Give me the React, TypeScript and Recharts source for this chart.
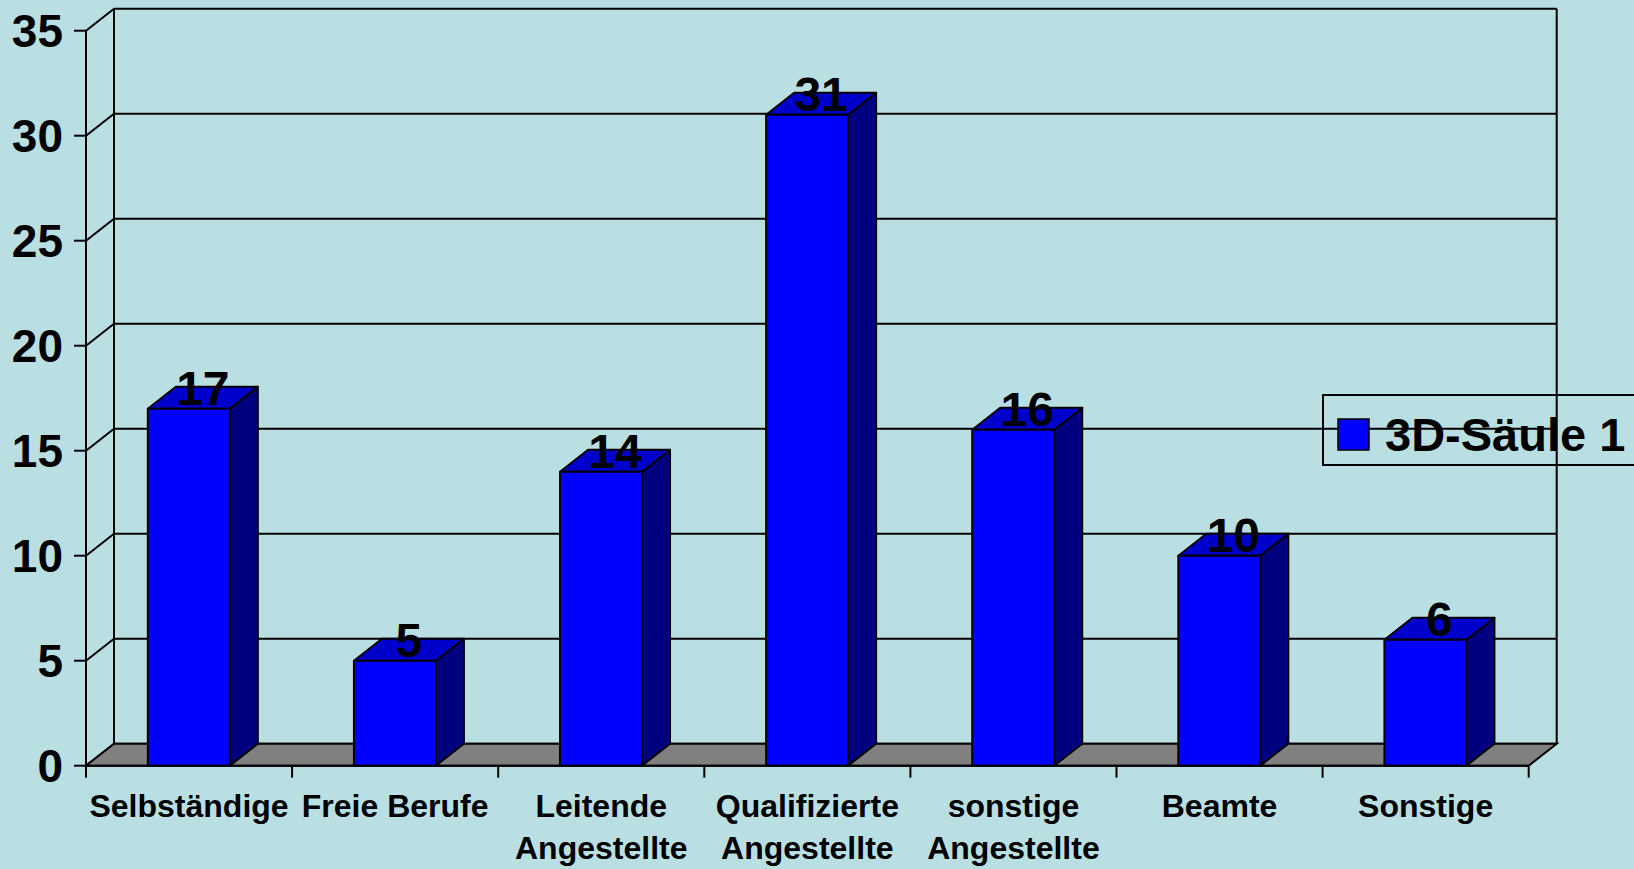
import React from "react";
import {
  BarChart,
  Bar,
  XAxis,
  YAxis,
  CartesianGrid,
  ReferenceArea,
  LabelList,
  Legend,
} from "recharts";

// Werte
const categories = [
  "Selbständige",
  "Freie Berufe",
  "Leitende\nAngestellte",
  "Qualifizierte\nAngestellte",
  "sonstige\nAngestellte",
  "Beamte",
  "Sonstige",
];
const values = [17, 5, 14, 31, 16, 10, 6];
const yTicks = [0, 5, 10, 15, 20, 25, 30, 35];
const seriesName = "3D-Säule 1";

const data = categories.map((name, i) => ({ name, value: values[i] }));

const FONT = '"Liberation Sans", Arial, sans-serif';
const BG = "#B9DFE3";
// Tiefe der 3D-Darstellung
const DX = 28;
const DY = 22;

// Säule mit Vorderseite, Deckel und Seitenfläche
const Column3D = (props: any) => {
  const { x, y, width, height } = props;
  if (!height || height <= 0) return null;
  const r = x + width;
  const b = y + height;
  return (
    <g stroke="#000" strokeWidth={2} strokeLinejoin="round">
      <polygon points={`${r},${y} ${r + DX},${y - DY} ${r + DX},${b - DY} ${r},${b}`} fill="#000080" />
      <polygon points={`${x},${y} ${x + DX},${y - DY} ${r + DX},${y - DY} ${r},${y}`} fill="#0000CC" />
      <rect x={x} y={y} width={width} height={height} fill="#0000FF" />
    </g>
  );
};

// Rückwand, Boden und Teilstriche der Kategorienachse
const Walls = (props: any) => {
  const { x, y, width, height } = props;
  const b = y + height;
  const r = x + width;
  const n = categories.length;
  const marks = Array.from({ length: n + 1 }, (_, i) => x + (i * width) / n);
  return (
    <g stroke="#000" strokeWidth={2}>
      <line x1={x + DX} y1={y - DY} x2={x + DX} y2={b - DY} />
      <line x1={r + DX} y1={y - DY} x2={r + DX} y2={b - DY} />
      <polygon points={`${x},${b} ${x + DX},${b - DY} ${r + DX},${b - DY} ${r},${b}`} fill="#808080" />
      {marks.map((mx, i) => (
        <line key={i} x1={mx} y1={b} x2={mx} y2={b + 12} />
      ))}
    </g>
  );
};

const gridLine = (p: any) => {
  const { x1, y1, x2, y2 } = p;
  return (
    <g key={`grid-${y1}`} stroke="#000" strokeWidth={2}>
      <line x1={x1} y1={y1} x2={x1 + DX} y2={y1 - DY} />
      <line x1={x1 + DX} y1={y1 - DY} x2={x2 + DX} y2={y2 - DY} />
    </g>
  );
};

const CategoryTick = (p: any) => {
  const { x, y, payload } = p;
  const lines = String(payload.value).split("\n");
  return (
    <text x={x} y={y} textAnchor="middle" fontFamily={FONT} fontWeight="bold" fontSize={32} fill="#000">
      {lines.map((l, i) => (
        <tspan key={i} x={x} dy={i === 0 ? 51 : 42}>
          {l}
        </tspan>
      ))}
    </text>
  );
};

const ValueLabel = (p: any) => {
  const { x, y, width, value } = p;
  return (
    <text
      x={x + width / 2 + DX / 2}
      y={y - 4}
      textAnchor="middle"
      fontFamily={FONT}
      fontWeight="bold"
      fontSize={48}
      fill="#000"
    >
      {value}
    </text>
  );
};

const LegendBox = () => (
  <svg width={340} height={72} style={{ display: "block" }}>
    <rect x={1} y={1} width={360} height={70} fill="none" stroke="#000" strokeWidth={2} />
    <rect x={16} y={25} width={31} height={31} fill="#0000FF" stroke="#000" strokeWidth={1.5} />
    <text x={63} y={57} fontFamily={FONT} fontWeight="bold" fontSize={47} fill="#000">
      {seriesName}
    </text>
  </svg>
);

export default function App() {
  return (
    <div
      style={{
        position: "absolute",
        left: 0,
        top: 0,
        width: 1634,
        height: 869,
        overflow: "hidden",
        background: BG,
      }}
    >
      <BarChart
        width={1634}
        height={869}
        data={data}
        margin={{ top: 30.7, right: 105.3, bottom: 23.3, left: 6 }}
        barCategoryGap="30%"
      >
        <CartesianGrid horizontal={gridLine} vertical={false} />
        <ReferenceArea y1={0} y2={35} shape={(p: any) => <Walls {...p} />} />
        <XAxis
          dataKey="name"
          height={80}
          tickSize={0}
          tickMargin={0}
          tickLine={false}
          interval={0}
          axisLine={{ stroke: "#000", strokeWidth: 2 }}
          tick={(p: any) => <CategoryTick {...p} />}
        />
        <YAxis
          type="number"
          domain={[0, 35]}
          ticks={yTicks}
          interval={0}
          width={80}
          tickSize={12}
          tickMargin={11}
          axisLine={{ stroke: "#000", strokeWidth: 2 }}
          tickLine={{ stroke: "#000", strokeWidth: 2 }}
          tick={{ fontSize: 46, fontWeight: "bold", fill: "#000", fontFamily: FONT }}
        />
        <Legend
          layout="vertical"
          align="center"
          verticalAlign="middle"
          wrapperStyle={{ left: 1322, top: 394, width: 340, height: 72 }}
          content={() => <LegendBox />}
        />
        <Bar
          dataKey="value"
          name={seriesName}
          fill="#0000FF"
          isAnimationActive={false}
          shape={(p: any) => <Column3D {...p} />}
        >
          <LabelList dataKey="value" content={ValueLabel} />
        </Bar>
      </BarChart>
    </div>
  );
}
